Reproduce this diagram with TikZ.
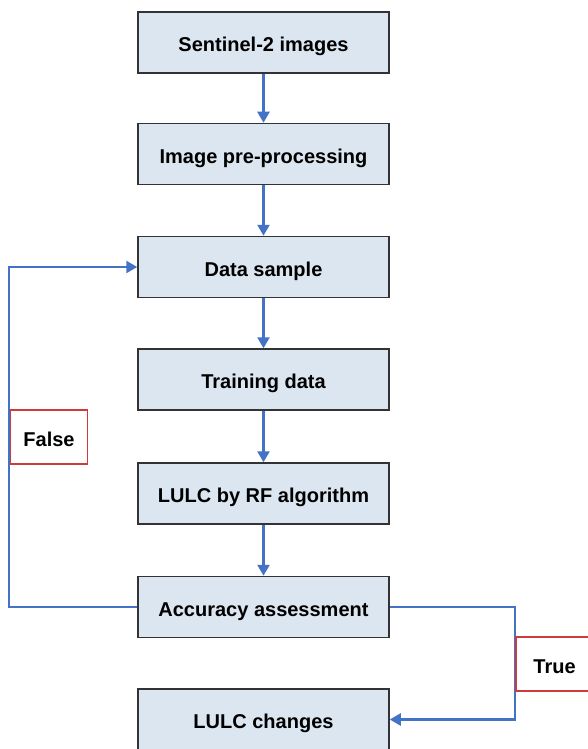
\documentclass[tikz,border=0pt]{standalone}
\usepackage{fontspec}
\setmainfont{Liberation Sans}
\usetikzlibrary{arrows.meta}
\definecolor{boxfill}{HTML}{DCE6F1}
\definecolor{boxline}{HTML}{333333}
\definecolor{arrowblue}{HTML}{4472C4}
\definecolor{labred}{HTML}{D03A3A}
\tikzset{
  stepbox/.style={draw=boxline, line width=1.5pt, fill=boxfill, rectangle,
    minimum width=251pt, minimum height=61pt, inner sep=0pt,
    text height=18pt, text depth=0pt,
    font=\fontsize{20pt}{24pt}\selectfont\bfseries},
  labbox/.style={draw=labred, line width=1.3pt, fill=white, rectangle,
    minimum width=77pt, minimum height=54pt, inner sep=0pt,
    text height=18pt, text depth=0pt,
    font=\fontsize{20pt}{24pt}\selectfont\bfseries},
  flow/.style={draw=arrowblue, line width=2.4pt,
    -{Triangle[width=12pt,length=11pt]}}
}
\begin{document}
\begin{tikzpicture}[x=1pt,y=-1pt]
\useasboundingbox (0,0) rectangle (588,749);
\fill[white] (0,0) rectangle (588,749);
\node[stepbox] (s2) at (263.5,42.5) {Sentinel-2 images};
\node[stepbox] (pre) at (263.5,154) {Image pre-processing};
\node[stepbox] (data) at (263.5,267) {Data sample};
\node[stepbox] (train) at (263.5,379.5) {Training data};
\node[stepbox] (rf) at (263.5,493.5) {LULC by RF algorithm};
\node[stepbox] (acc) at (263.5,607) {Accuracy assessment};
\node[stepbox] (chg) at (263.5,719.5) {LULC changes};
\draw[flow] (s2) -- (pre);
\draw[flow] (pre) -- (data);
\draw[flow] (data) -- (train);
\draw[flow] (train) -- (rf);
\draw[flow] (rf) -- (acc);
\coordinate (fl) at (9,607);
\coordinate (tr) at (515,607);
\draw[flow] (acc.west) -- (fl) |- (data.west);
\draw[flow] (acc.east) -- (tr) |- (chg.east);
\node[labbox] (false) at (49,437) {False};
\node[labbox] (true) at (554.5,664) {True};
\end{tikzpicture}
\end{document}
